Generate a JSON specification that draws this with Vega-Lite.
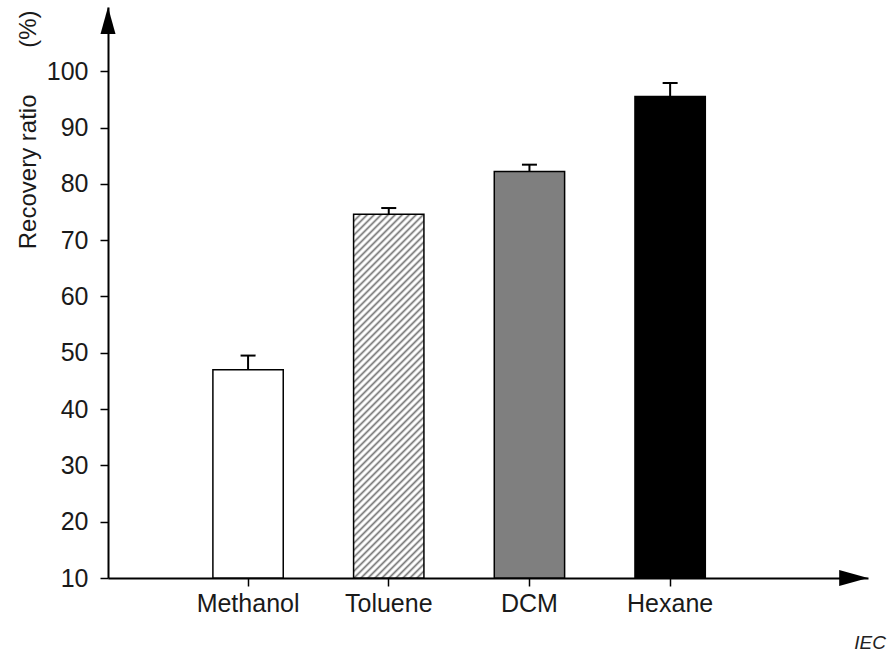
{
  "$schema": "https://vega.github.io/schema/vega-lite/v6.json",
  "width": 760,
  "height": 571,
  "autosize": {"type": "none"},
  "padding": {"left": 108, "top": 7, "right": 21, "bottom": 77},
  "background": "white",
  "config": {"font": "Liberation Sans", "view": {"stroke": null}, "axis": {"grid": false}},
  "title": {"text": "IEC", "orient": "bottom", "anchor": "end", "frame": "group", "fontSize": 19, "fontStyle": "italic", "fontWeight": "normal", "color": "#222", "dx": 18, "offset": 18},
  "layer": [
    {
      "data": {"values": [
        {"solvent": "Methanol", "recovery": 47.0, "upper": 49.5},
        {"solvent": "Toluene", "recovery": 74.6, "upper": 75.7},
        {"solvent": "DCM", "recovery": 82.2, "upper": 83.4},
        {"solvent": "Hexane", "recovery": 95.5, "upper": 97.9}
      ]},
      "encoding": {
        "x": {"field": "solvent", "type": "nominal", "sort": null,
          "scale": {"paddingInner": 0.5, "paddingOuter": 0.951, "align": 0.392},
          "axis": {"title": null, "labelAngle": 0, "labelFontSize": 25, "labelColor": "#1a1a1a", "labelPadding": 5, "tickSize": 8, "tickWidth": 1.5, "tickColor": "black", "domainColor": "black", "domainWidth": 2}}
      },
      "layer": [
        {
          "mark": {"type": "bar", "stroke": "black", "strokeWidth": 1.5},
          "encoding": {
            "y": {"field": "recovery", "type": "quantitative",
              "scale": {"domain": [10, 111.4], "nice": false, "zero": false},
              "axis": {"values": [10, 20, 30, 40, 50, 60, 70, 80, 90, 100], "title": "Recovery\u00a0ratio\u00a0\u00a0\u00a0\u00a0\u00a0\u00a0\u00a0(%)", "titleFontSize": 24, "titleFontWeight": "normal", "titleColor": "#1a1a1a", "titleAngle": -90, "titleX": -80, "titleY": 3, "titleAlign": "right", "titleBaseline": "middle", "labelFontSize": 25, "labelColor": "#1a1a1a", "labelPadding": 12, "tickSize": 8, "tickWidth": 1.5, "tickColor": "black", "domainColor": "black", "domainWidth": 2}},
            "y2": {"datum": 10},
            "fill": {
              "condition": [
                {"test": "datum.solvent === 'Methanol'", "value": "white"},
                {"test": "datum.solvent === 'Toluene'", "value": {"gradient": "linear", "x1": 0, "y1": 0, "x2": 0.2224, "y2": 1.1503, "stops": [
{"offset":0,"color":"#777"},{"offset":0.006,"color":"#fff"},{"offset":0.011,"color":"#fff"},
{"offset":0.0161,"color":"#777"},{"offset":0.0221,"color":"#fff"},{"offset":0.0271,"color":"#fff"},
{"offset":0.0323,"color":"#777"},{"offset":0.0383,"color":"#fff"},{"offset":0.0433,"color":"#fff"},
{"offset":0.0484,"color":"#777"},{"offset":0.0544,"color":"#fff"},{"offset":0.0594,"color":"#fff"},
{"offset":0.0645,"color":"#777"},{"offset":0.0705,"color":"#fff"},{"offset":0.0755,"color":"#fff"},
{"offset":0.0806,"color":"#777"},{"offset":0.0866,"color":"#fff"},{"offset":0.0916,"color":"#fff"},
{"offset":0.0968,"color":"#777"},{"offset":0.1028,"color":"#fff"},{"offset":0.1078,"color":"#fff"},
{"offset":0.1129,"color":"#777"},{"offset":0.1189,"color":"#fff"},{"offset":0.1239,"color":"#fff"},
{"offset":0.1290,"color":"#777"},{"offset":0.1350,"color":"#fff"},{"offset":0.1400,"color":"#fff"},
{"offset":0.1452,"color":"#777"},{"offset":0.1512,"color":"#fff"},{"offset":0.1562,"color":"#fff"},
{"offset":0.1613,"color":"#777"},{"offset":0.1673,"color":"#fff"},{"offset":0.1723,"color":"#fff"},
{"offset":0.1774,"color":"#777"},{"offset":0.1834,"color":"#fff"},{"offset":0.1884,"color":"#fff"},
{"offset":0.1935,"color":"#777"},{"offset":0.1995,"color":"#fff"},{"offset":0.2045,"color":"#fff"},
{"offset":0.2097,"color":"#777"},{"offset":0.2157,"color":"#fff"},{"offset":0.2207,"color":"#fff"},
{"offset":0.2258,"color":"#777"},{"offset":0.2318,"color":"#fff"},{"offset":0.2368,"color":"#fff"},
{"offset":0.2419,"color":"#777"},{"offset":0.2479,"color":"#fff"},{"offset":0.2529,"color":"#fff"},
{"offset":0.2581,"color":"#777"},{"offset":0.2641,"color":"#fff"},{"offset":0.2691,"color":"#fff"},
{"offset":0.2742,"color":"#777"},{"offset":0.2802,"color":"#fff"},{"offset":0.2852,"color":"#fff"},
{"offset":0.2903,"color":"#777"},{"offset":0.2963,"color":"#fff"},{"offset":0.3013,"color":"#fff"},
{"offset":0.3065,"color":"#777"},{"offset":0.3125,"color":"#fff"},{"offset":0.3175,"color":"#fff"},
{"offset":0.3226,"color":"#777"},{"offset":0.3286,"color":"#fff"},{"offset":0.3336,"color":"#fff"},
{"offset":0.3387,"color":"#777"},{"offset":0.3447,"color":"#fff"},{"offset":0.3497,"color":"#fff"},
{"offset":0.3548,"color":"#777"},{"offset":0.3608,"color":"#fff"},{"offset":0.3658,"color":"#fff"},
{"offset":0.3710,"color":"#777"},{"offset":0.3770,"color":"#fff"},{"offset":0.3820,"color":"#fff"},
{"offset":0.3871,"color":"#777"},{"offset":0.3931,"color":"#fff"},{"offset":0.3981,"color":"#fff"},
{"offset":0.4032,"color":"#777"},{"offset":0.4092,"color":"#fff"},{"offset":0.4142,"color":"#fff"},
{"offset":0.4194,"color":"#777"},{"offset":0.4254,"color":"#fff"},{"offset":0.4304,"color":"#fff"},
{"offset":0.4355,"color":"#777"},{"offset":0.4415,"color":"#fff"},{"offset":0.4465,"color":"#fff"},
{"offset":0.4516,"color":"#777"},{"offset":0.4576,"color":"#fff"},{"offset":0.4626,"color":"#fff"},
{"offset":0.4677,"color":"#777"},{"offset":0.4737,"color":"#fff"},{"offset":0.4787,"color":"#fff"},
{"offset":0.4839,"color":"#777"},{"offset":0.4899,"color":"#fff"},{"offset":0.4949,"color":"#fff"},
{"offset":0.5000,"color":"#777"},{"offset":0.5060,"color":"#fff"},{"offset":0.5110,"color":"#fff"},
{"offset":0.5161,"color":"#777"},{"offset":0.5221,"color":"#fff"},{"offset":0.5271,"color":"#fff"},
{"offset":0.5323,"color":"#777"},{"offset":0.5383,"color":"#fff"},{"offset":0.5433,"color":"#fff"},
{"offset":0.5484,"color":"#777"},{"offset":0.5544,"color":"#fff"},{"offset":0.5594,"color":"#fff"},
{"offset":0.5645,"color":"#777"},{"offset":0.5705,"color":"#fff"},{"offset":0.5755,"color":"#fff"},
{"offset":0.5806,"color":"#777"},{"offset":0.5866,"color":"#fff"},{"offset":0.5916,"color":"#fff"},
{"offset":0.5968,"color":"#777"},{"offset":0.6028,"color":"#fff"},{"offset":0.6078,"color":"#fff"},
{"offset":0.6129,"color":"#777"},{"offset":0.6189,"color":"#fff"},{"offset":0.6239,"color":"#fff"},
{"offset":0.6290,"color":"#777"},{"offset":0.6350,"color":"#fff"},{"offset":0.6400,"color":"#fff"},
{"offset":0.6452,"color":"#777"},{"offset":0.6512,"color":"#fff"},{"offset":0.6562,"color":"#fff"},
{"offset":0.6613,"color":"#777"},{"offset":0.6673,"color":"#fff"},{"offset":0.6723,"color":"#fff"},
{"offset":0.6774,"color":"#777"},{"offset":0.6834,"color":"#fff"},{"offset":0.6884,"color":"#fff"},
{"offset":0.6935,"color":"#777"},{"offset":0.6995,"color":"#fff"},{"offset":0.7045,"color":"#fff"},
{"offset":0.7097,"color":"#777"},{"offset":0.7157,"color":"#fff"},{"offset":0.7207,"color":"#fff"},
{"offset":0.7258,"color":"#777"},{"offset":0.7318,"color":"#fff"},{"offset":0.7368,"color":"#fff"},
{"offset":0.7419,"color":"#777"},{"offset":0.7479,"color":"#fff"},{"offset":0.7529,"color":"#fff"},
{"offset":0.7581,"color":"#777"},{"offset":0.7641,"color":"#fff"},{"offset":0.7691,"color":"#fff"},
{"offset":0.7742,"color":"#777"},{"offset":0.7802,"color":"#fff"},{"offset":0.7852,"color":"#fff"},
{"offset":0.7903,"color":"#777"},{"offset":0.7963,"color":"#fff"},{"offset":0.8013,"color":"#fff"},
{"offset":0.8065,"color":"#777"},{"offset":0.8125,"color":"#fff"},{"offset":0.8175,"color":"#fff"},
{"offset":0.8226,"color":"#777"},{"offset":0.8286,"color":"#fff"},{"offset":0.8336,"color":"#fff"},
{"offset":0.8387,"color":"#777"},{"offset":0.8447,"color":"#fff"},{"offset":0.8497,"color":"#fff"},
{"offset":0.8548,"color":"#777"},{"offset":0.8608,"color":"#fff"},{"offset":0.8658,"color":"#fff"},
{"offset":0.8710,"color":"#777"},{"offset":0.8770,"color":"#fff"},{"offset":0.8820,"color":"#fff"},
{"offset":0.8871,"color":"#777"},{"offset":0.8931,"color":"#fff"},{"offset":0.8981,"color":"#fff"},
{"offset":0.9032,"color":"#777"},{"offset":0.9092,"color":"#fff"},{"offset":0.9142,"color":"#fff"},
{"offset":0.9194,"color":"#777"},{"offset":0.9254,"color":"#fff"},{"offset":0.9304,"color":"#fff"},
{"offset":0.9355,"color":"#777"},{"offset":0.9415,"color":"#fff"},{"offset":0.9465,"color":"#fff"},
{"offset":0.9516,"color":"#777"},{"offset":0.9576,"color":"#fff"},{"offset":0.9626,"color":"#fff"},
{"offset":0.9677,"color":"#777"},{"offset":0.9737,"color":"#fff"},{"offset":0.9787,"color":"#fff"},
{"offset":0.9839,"color":"#777"},{"offset":0.9899,"color":"#fff"},{"offset":0.9949,"color":"#fff"},
{"offset":1,"color":"#777"}
                ]}},
                {"test": "datum.solvent === 'DCM'", "value": "#7f7f7f"}
              ],
              "value": "black"
            }
          }
        },
        {
          "mark": {"type": "rule", "color": "black", "strokeWidth": 2},
          "encoding": {
            "y": {"field": "recovery", "type": "quantitative"},
            "y2": {"field": "upper"}
          }
        },
        {
          "mark": {"type": "tick", "color": "black", "thickness": 2, "size": 15, "opacity": 1},
          "encoding": {
            "y": {"field": "upper", "type": "quantitative"}
          }
        }
      ]
    },
    {
      "data": {"values": [{}]},
      "mark": {"type": "point", "shape": "M0,0L0.5,1.8L-0.5,1.8Z", "size": 900, "filled": true, "color": "black", "opacity": 1},
      "encoding": {
        "x": {"datum": 0, "type": "quantitative", "scale": {"domain": [0, 1], "nice": false, "zero": false}, "axis": null},
        "y": {"datum": 111.4, "type": "quantitative"}
      }
    },
    {
      "data": {"values": [{}]},
      "mark": {"type": "point", "shape": "M0,0L-1.8,-0.5L-1.8,0.5Z", "size": 1024, "filled": true, "color": "black", "opacity": 1},
      "encoding": {
        "x": {"datum": 1, "type": "quantitative", "scale": {"domain": [0, 1], "nice": false, "zero": false}, "axis": null},
        "y": {"datum": 10, "type": "quantitative"}
      }
    }
  ],
  "resolve": {"scale": {"x": "independent"}, "axis": {"x": "independent"}}
}
